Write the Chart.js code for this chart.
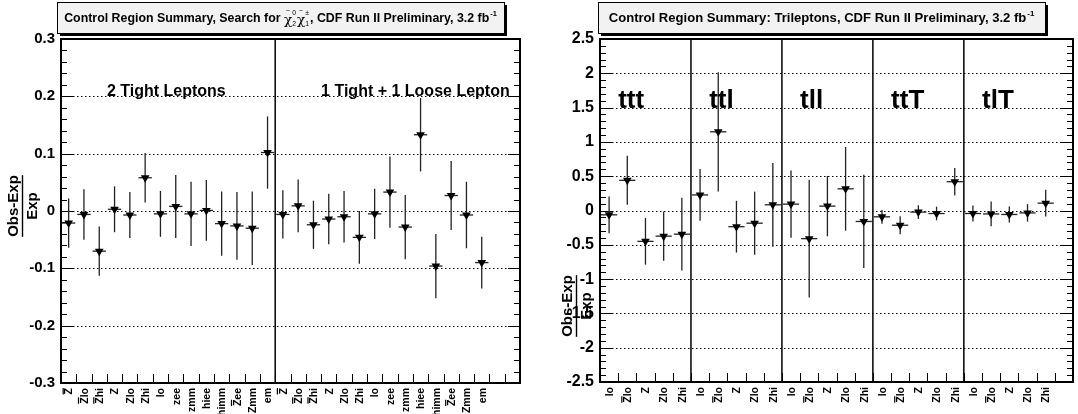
<!DOCTYPE html>
<html>
<head>
<meta charset="utf-8">
<script src="https://cdn.jsdelivr.net/npm/chart.js@4.4.1/dist/chart.umd.min.js"></script>
<style>
  html, body { margin: 0; padding: 0; background: #fff; }
  .panel { position: absolute; top: 0; height: 414px; }
  #left { left: 0; width: 540px; }
  #right { left: 540px; width: 538px; }
</style>
</head>
<body>
<div class="panel" id="left"><canvas id="chart-dilepton"></canvas></div>
<div class="panel" id="right"><canvas id="chart-trilepton"></canvas></div>
<script>
// Z with overbar (not-Z)
const ZB = "Z\u0305";

// Left panel: dilepton control regions
const dileptonCategories = [ZB, ZB + "lo", ZB + "hi", "Z", "Zlo", "Zhi", "lo", "zee", "zmm", "hiee", "himm", ZB + "ee", "Zmm", "em"];
const tightValues = [-0.021, -0.006, -0.070, 0.003, -0.007, 0.058, -0.005, 0.008, -0.005, 0.001, -0.022, -0.026, -0.030, 0.102];
const tightErrors = [0.043, 0.044, 0.043, 0.040, 0.040, 0.043, 0.040, 0.055, 0.056, 0.053, 0.056, 0.059, 0.064, 0.063];
const looseValues = [-0.006, 0.009, -0.024, -0.014, -0.010, -0.046, -0.005, 0.033, -0.028, 0.133, -0.096, 0.027, -0.007, -0.090];
const looseErrors = [0.042, 0.046, 0.042, 0.044, 0.045, 0.046, 0.044, 0.062, 0.056, 0.064, 0.056, 0.060, 0.058, 0.045];
const dileptonTicks = [-0.3, -0.2, -0.1, 0, 0.1, 0.2, 0.3];

// Right panel: trilepton control regions
const trileptonGroups = ["ttt", "ttl", "tll", "ttT", "tlT"];
const trileptonCategories = ["lo", ZB + "lo", "Z", "Zlo", "Zhi"];
const tttValues = [-0.063, 0.440, -0.450, -0.374, -0.345];
const tttErrors = [0.267, 0.357, 0.340, 0.360, 0.530];
const ttlValues = [0.227, 1.147, -0.236, -0.185, 0.083];
const ttlErrors = [0.377, 0.870, 0.377, 0.460, 0.610];
const tllValues = [0.093, -0.410, 0.064, 0.316, -0.160];
const tllErrors = [0.490, 0.860, 0.440, 0.610, 0.680];
const ttTValues = [-0.092, -0.215, -0.023, -0.044, 0.420];
const ttTErrors = [0.100, 0.130, 0.100, 0.100, 0.200];
const tlTValues = [-0.044, -0.050, -0.058, -0.035, 0.107];
const tlTErrors = [0.117, 0.180, 0.117, 0.127, 0.195];
const trileptonTicks = [-2.5, -2, -1.5, -1, -0.5, 0, 0.5, 1, 1.5, 2, 2.5];

const FONT = '"Liberation Sans", Arial, sans-serif';

document.addEventListener("DOMContentLoaded", () => {
  initializeDileptonChart();
  initializeTrileptonChart();
});

function initializeDileptonChart() {
  const el = document.getElementById("chart-dilepton");
  const labels = dileptonCategories.concat(dileptonCategories, ["", ""]);
  const values = tightValues.concat(looseValues, [null, null]);
  const errors = tightErrors.concat(looseErrors, [null, null]);

  new Chart(el, {
    type: "line",
    data: { labels, datasets: [markerDataset(values, errors)] },
    options: baseOptions({
      yTicks: dileptonTicks, yWidth: 61, xHeight: 31, tickSize: 15,
      padding: { top: 39, right: 20, left: 0, bottom: 0 },
    }),
    plugins: [rootFrame({
      major: 0.1, minor: 0.02, ticks: dileptonTicks, dividers: [14],
      titleBox: { x0: 57, x1: 504, parts: [
        { t: "Control Region Summary, Search for " },
        { chi: true, sub: "2", sup: "0" },
        { chi: true, sub: "1", sup: "\u00b1" },
        { t: ", CDF Run II Preliminary, 3.2 fb" },
        { sup: "-1" },
      ], width: 433 },
      yTitle: { x: 22, y: 206 },
      texts: [
        { text: "2 Tight Leptons", bin: 3, value: 0.2, size: 16 },
        { text: "1 Tight + 1 Loose Lepton", bin: 17, value: 0.2, size: 16 },
      ],
    })],
  });
}

function initializeTrileptonChart() {
  const el = document.getElementById("chart-trilepton");
  let labels = [];
  trileptonGroups.forEach(() => { labels = labels.concat(trileptonCategories); });
  labels.push("");
  const values = tttValues.concat(ttlValues, tllValues, ttTValues, tlTValues, [null]);
  const errors = tttErrors.concat(ttlErrors, tllErrors, ttTErrors, tlTErrors, [null]);

  new Chart(el, {
    type: "line",
    data: { labels, datasets: [markerDataset(values, errors)] },
    options: baseOptions({
      yTicks: trileptonTicks, yWidth: 60, xHeight: 32, tickSize: 16,
      padding: { top: 39, right: 1, left: 0, bottom: 0 },
    }),
    plugins: [rootFrame({
      major: 0.5, minor: 0.1, ticks: trileptonTicks, dividers: [5, 10, 15, 20],
      titleBox: { x0: 58, x1: 505, parts: [
        { t: "Control Region Summary: Trileptons, CDF Run II Preliminary, 3.2 fb" },
        { sup: "-1" },
      ], width: 426 },
      yTitle: { x: 36, y: 306 },
      texts: trileptonGroups.map((g, i) => ({ text: g, bin: i * 5 + 1, value: 1.5, size: 26 })),
    })],
  });
}

function markerDataset(values, errors) {
  return {
    data: values,
    errors: errors,
    showLine: false,
    pointStyle: "triangle",
    rotation: 180,
    pointRadius: 5,
    pointHoverRadius: 5,
    pointBackgroundColor: "#000",
    pointBorderColor: "#000",
    pointBorderWidth: 0,
  };
}

function baseOptions({ yTicks, yWidth, xHeight, tickSize, padding }) {
  return {
    responsive: true,
    maintainAspectRatio: false,
    animation: false,
    layout: { padding },
    plugins: { legend: { display: false }, tooltip: { enabled: false } },
    scales: {
      x: {
        type: "category",
        offset: true,
        grid: { display: false, drawTicks: false },
        border: { display: false },
        // labels are drawn by the frame plugin (they need overbars)
        ticks: { display: false, autoSkip: false },
        afterFit: (scale) => { scale.height = xHeight; },
      },
      y: {
        min: yTicks[0],
        max: yTicks[yTicks.length - 1],
        grid: { display: false, drawTicks: false },
        border: { display: false },
        afterBuildTicks: (scale) => { scale.ticks = yTicks.map((v) => ({ value: v })); },
        ticks: {
          padding: 6, color: "#000",
          font: { family: FONT, size: tickSize, weight: "bold" },
          callback: (v) => String(parseFloat(v.toFixed(2))),
        },
        afterFit: (scale) => { scale.width = yWidth; },
      },
    },
  };
}

// ROOT-like frame, ticks, error bars and labels
function rootFrame(cfg) {
  return {
    id: "rootFrame",
    beforeDatasetsDraw(chart) {
      const { ctx, chartArea: a, scales: { x, y } } = chart;
      const half = (x.getPixelForValue(1) - x.getPixelForValue(0)) / 2;
      ctx.save();
      ctx.strokeStyle = "#000";

      // dotted grid at major values
      ctx.lineWidth = 1;
      ctx.setLineDash([1.5, 2.5]);
      cfg.ticks.forEach((v) => {
        if (v <= y.min || v >= y.max) return;
        const py = Math.round(y.getPixelForValue(v)) + 0.5;
        seg(ctx, a.left, py, a.right, py);
      });
      ctx.setLineDash([]);

      // y ticks on both sides
      const n = Math.round((y.max - y.min) / cfg.minor);
      for (let i = 0; i <= n; i++) {
        const v = y.min + i * cfg.minor;
        const r = v / cfg.major;
        const len = Math.abs(r - Math.round(r)) < 1e-6 ? 12 : 6;
        const py = Math.round(y.getPixelForValue(v)) + 0.5;
        seg(ctx, a.left, py, a.left + len, py);
        seg(ctx, a.right - len, py, a.right, py);
      }

      // x ticks at bin edges
      for (let i = 0; i <= x.max + 1; i++) {
        const px = Math.round(x.getPixelForValue(i) - half) + 0.5;
        seg(ctx, px, a.bottom, px, a.bottom - 9);
      }

      // region dividers
      ctx.lineWidth = 1.5;
      cfg.dividers.forEach((b) => {
        const px = x.getPixelForValue(b) - half;
        seg(ctx, px, a.top, px, a.bottom);
      });

      // error bars
      ctx.strokeStyle = "#222";
      ctx.lineWidth = 1.3;
      chart.data.datasets.forEach((ds) => {
        ds.data.forEach((v, i) => {
          if (v == null) return;
          const e = ds.errors[i];
          const px = x.getPixelForValue(i);
          const py = y.getPixelForValue(v);
          seg(ctx, px, y.getPixelForValue(v + e), px, y.getPixelForValue(v - e));
          seg(ctx, px - half + 1, py, px + half - 1, py);
        });
      });
      ctx.restore();
    },
    afterDraw(chart) {
      const { ctx, chartArea: a, scales: { x, y } } = chart;
      const half = (x.getPixelForValue(1) - x.getPixelForValue(0)) / 2;
      ctx.save();

      // frame
      ctx.strokeStyle = "#000";
      ctx.lineWidth = 2;
      ctx.strokeRect(a.left, a.top, a.right - a.left, a.bottom - a.top);

      // rotated category labels with overbars
      ctx.fillStyle = "#000";
      ctx.lineWidth = 1.2;
      chart.data.labels.forEach((lab, i) => {
        if (!lab) return;
        ctx.save();
        ctx.translate(x.getPixelForValue(i), a.bottom + 5);
        ctx.rotate(-Math.PI / 2);
        drawBarredLabel(ctx, lab, 10.5);
        ctx.restore();
      });

      // region labels
      ctx.textBaseline = "alphabetic";
      ctx.textAlign = "left";
      cfg.texts.forEach((t) => {
        ctx.font = `bold ${t.size}px ${FONT}`;
        ctx.fillText(t.text, x.getPixelForValue(t.bin) - half, y.getPixelForValue(t.value));
      });

      // title box with shadow
      const tb = cfg.titleBox;
      ctx.fillStyle = "#000";
      ctx.fillRect(tb.x0 + 3, 5, tb.x1 - tb.x0, 31);
      ctx.fillStyle = "#f2f2f2";
      ctx.fillRect(tb.x0, 2, tb.x1 - tb.x0, 31);
      ctx.lineWidth = 1;
      ctx.strokeRect(tb.x0 + 0.5, 2.5, tb.x1 - tb.x0, 31);
      let fs = 12;
      const w0 = titleRun(ctx, tb.parts, 0, 0, fs, false);
      fs = fs * tb.width / w0;
      const w = titleRun(ctx, tb.parts, 0, 0, fs, false);
      ctx.fillStyle = "#000";
      titleRun(ctx, tb.parts, (tb.x0 + tb.x1) / 2 - w / 2, 22, fs, true);

      // y axis title as a fraction
      ctx.save();
      ctx.translate(cfg.yTitle.x, cfg.yTitle.y);
      ctx.rotate(-Math.PI / 2);
      ctx.font = `bold 15px ${FONT}`;
      ctx.textAlign = "center";
      const num = "Obs-Exp";
      const nw = ctx.measureText(num).width;
      ctx.textBaseline = "bottom";
      ctx.fillText(num, 0, -1);
      ctx.lineWidth = 1.4;
      seg(ctx, -nw / 2, 0.5, nw / 2, 0.5);
      ctx.textBaseline = "top";
      ctx.fillText("Exp", 0, 3);
      ctx.restore();

      ctx.restore();
    },
  };
}

// right-aligned label (in rotated frame), U+0305 puts a bar over the previous char
function drawBarredLabel(ctx, lab, fs) {
  ctx.font = `bold ${fs}px ${FONT}`;
  ctx.textAlign = "left";
  ctx.textBaseline = "alphabetic";
  const chars = [];
  for (const ch of lab) {
    if (ch === "\u0305") chars[chars.length - 1].bar = true;
    else chars.push({ ch, bar: false });
  }
  const total = ctx.measureText(chars.map((c) => c.ch).join("")).width;
  const base = fs * 0.36;
  let cx = -total;
  chars.forEach((c) => {
    const cw = ctx.measureText(c.ch).width;
    ctx.fillText(c.ch, cx, base);
    if (c.bar) seg(ctx, cx, base - fs * 0.88, cx + cw, base - fs * 0.88);
    cx += cw;
  });
}

function seg(ctx, x0, y0, x1, y1) {
  ctx.beginPath();
  ctx.moveTo(x0, y0);
  ctx.lineTo(x1, y1);
  ctx.stroke();
}

// Title text with sub/superscripts, returns width
function titleRun(ctx, parts, x, y, fs, draw) {
  let w = 0;
  parts.forEach((p) => {
    if (p.t !== undefined) {
      ctx.font = `bold ${fs}px ${FONT}`;
      if (draw) ctx.fillText(p.t, x + w, y);
      w += ctx.measureText(p.t).width;
    } else if (p.chi) {
      ctx.font = `${fs * 1.1}px "DejaVu Serif", serif`;
      const cw = ctx.measureText("\u03c7").width;
      if (draw) ctx.fillText("\u03c7", x + w, y + fs * 0.15);
      ctx.font = `${fs * 0.55}px ${FONT}`;
      if (draw) {
        ctx.fillText("~", x + w + cw * 0.25, y - fs * 0.75);
        ctx.fillText(p.sub, x + w + cw, y + fs * 0.3);
        ctx.fillText(p.sup, x + w + cw, y - fs * 0.55);
      }
      w += cw + Math.max(ctx.measureText(p.sub).width, ctx.measureText(p.sup).width) + 1;
    } else if (p.sup !== undefined) {
      ctx.font = `bold ${fs * 0.6}px ${FONT}`;
      if (draw) ctx.fillText(p.sup, x + w + 1, y - fs * 0.45);
      w += ctx.measureText(p.sup).width + 1;
    }
  });
  return w;
}
</script>
</body>
</html>
